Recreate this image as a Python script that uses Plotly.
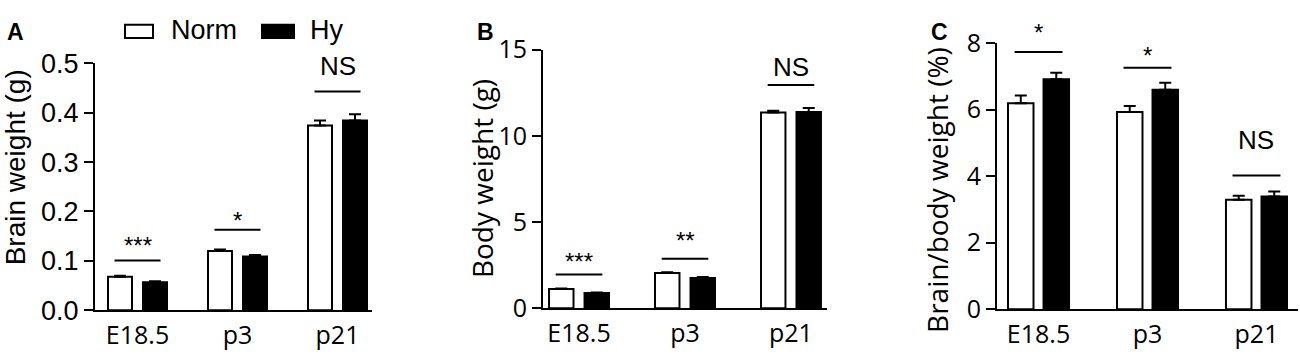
import plotly.graph_objects as go

W, H = 1300, 358

# ---------------- data ----------------
categories = ["E18.5", "p3", "p21"]

brain_norm = [0.068, 0.120, 0.374]
brain_norm_err = [0.002, 0.003, 0.010]
brain_hy = [0.057, 0.109, 0.384]
brain_hy_err = [0.002, 0.003, 0.013]

body_norm = [1.12, 2.05, 11.36]
body_norm_err = [0.03, 0.04, 0.10]
body_hy = [0.88, 1.75, 11.39]
body_hy_err = [0.03, 0.06, 0.22]

ratio_norm = [6.19, 5.93, 3.29]
ratio_norm_err = [0.23, 0.18, 0.12]
ratio_hy = [6.91, 6.60, 3.39]
ratio_hy_err = [0.20, 0.21, 0.15]

sig_a = ["***", "*", "NS"]
sig_a_y = [0.101, 0.163, 0.443]
sig_b = ["***", "**", "NS"]
sig_b_y = [1.96, 2.87, 12.95]
sig_c = ["*", "*", "NS"]
sig_c_y = [7.73, 7.26, 4.02]

ticks_a = [0, 0.1, 0.2, 0.3, 0.4, 0.5]
ticks_b = [0, 5, 10, 15]
ticks_c = [0, 2, 4, 6, 8]

series_names = ["Norm", "Hy"]
titles = ["Brain weight (g)", "Body weight (g)", "Brain/body weight (%)"]
panel_letters = ["A", "B", "C"]

# ---------------- layout helpers ----------------
def px2x(px):
    return px / W

def px2y(py):
    return 1 - py / H

OPEN = "Open Sans, Noto Sans, sans-serif"
ARIAL = "Liberation Sans, Arial, sans-serif"

# pixel offsets of significance labels above their lines (styling)
label_shift = [[15, 9.5, 25], [12.5, 18.5, 18], [19.5, 12, 35]]

panels = [
    dict(norm=brain_norm, ne=brain_norm_err, hy=brain_hy, he=brain_hy_err,
         sig=sig_a, sigy=sig_a_y, ticks=ticks_a, fmt=".1f", yr=[0, 0.5],
         xd=[px2x(95), px2x(372)], yd=[px2y(323), px2y(50)],
         xr=[-0.425, 2.345], bw=0.24, gw=0.59, hw=0.23, tickfont=ARIAL, tfs=27,
         title_x=15, title_y=165, title_font=ARIAL, letter_x=15),
    dict(norm=body_norm, ne=body_norm_err, hy=body_hy, he=body_hy_err,
         sig=sig_b, sigy=sig_b_y, ticks=ticks_b, fmt="d", yr=[0, 15],
         xd=[px2x(543), px2x(827)], yd=[px2y(320.7), px2y(35)],
         xr=[-0.34, 2.34], bw=0.231, gw=0.566, hw=0.22, tickfont=OPEN, tfs=25,
         title_x=482, title_y=178, title_font=OPEN, letter_x=485),
    dict(norm=ratio_norm, ne=ratio_norm_err, hy=ratio_hy, he=ratio_hy_err,
         sig=sig_c, sigy=sig_c_y, ticks=ticks_c, fmt="d", yr=[0, 8],
         xd=[px2x(997), px2x(1298)], yd=[px2y(321.7), px2y(27.7)],
         xr=[-0.381, 2.381], bw=0.234, gw=0.56, hw=0.22, tickfont=OPEN, tfs=25,
         title_x=937, title_y=190, title_font=OPEN, letter_x=939),
]

fig = go.Figure()
shapes = []
annotations = []

for i, p in enumerate(panels):
    sfx = "" if i == 0 else str(i + 1)
    xa, ya = "x" + sfx, "y" + sfx
    fig.add_trace(go.Bar(
        x=categories, y=p["norm"], name=series_names[0], xaxis=xa, yaxis=ya,
        marker=dict(color="white", line=dict(color="black", width=2)),
        width=p["bw"], offset=-p["gw"] / 2,
        error_y=dict(type="data", array=p["ne"], arrayminus=[0] * 3, symmetric=False,
                     color="black", thickness=2, width=6),
        showlegend=False))
    fig.add_trace(go.Bar(
        x=categories, y=p["hy"], name=series_names[1], xaxis=xa, yaxis=ya,
        marker=dict(color="black", line=dict(color="black", width=2)),
        width=p["bw"], offset=p["gw"] / 2 - p["bw"],
        error_y=dict(type="data", array=p["he"], arrayminus=[0] * 3, symmetric=False,
                     color="black", thickness=2, width=6),
        showlegend=False))

    xkey = "xaxis" + sfx
    ykey = "yaxis" + sfx
    fig.layout[xkey] = dict(
        domain=p["xd"], anchor=ya, type="category", range=p["xr"],
        showline=True, linecolor="black", linewidth=2, ticks="", showgrid=False,
        zeroline=False, tickfont=dict(family=OPEN, size=25, color="black"),
        ticklabelstandoff=2, fixedrange=True)
    fig.layout[ykey] = dict(
        domain=p["yd"], anchor=xa, range=p["yr"], tickvals=p["ticks"],
        tickformat=p["fmt"], showline=True, linecolor="black", linewidth=2,
        ticks="outside", ticklen=9, tickwidth=2, tickcolor="black",
        showgrid=False, zeroline=False,
        tickfont=dict(family=p["tickfont"], size=p["tfs"], color="black"),
        fixedrange=True)

    for j in range(3):
        shapes.append(dict(type="line", xref=xa, yref=ya,
                           x0=j - p["hw"], x1=j + p["hw"], y0=p["sigy"][j], y1=p["sigy"][j],
                           line=dict(color="black", width=2)))
        is_ns = p["sig"][j] == "NS"
        annotations.append(dict(
            xref=xa, yref=ya, x=j, y=p["sigy"][j], text=p["sig"][j],
            showarrow=False, xanchor="center", yanchor="middle",
            yshift=label_shift[i][j],
            font=dict(family=ARIAL, size=26 if is_ns else 24, color="black")))

    annotations.append(dict(
        xref="paper", yref="paper", x=px2x(p["title_x"]), y=px2y(p["title_y"]),
        text=titles[i], textangle=-90, showarrow=False, xanchor="center", yanchor="middle",
        font=dict(family=p["title_font"], size=28, color="black")))
    annotations.append(dict(
        xref="paper", yref="paper", x=px2x(p["letter_x"]), y=px2y(15),
        text="<b>" + panel_letters[i] + "</b>", showarrow=False,
        xanchor="center", yanchor="middle",
        font=dict(family=ARIAL, size=23, color="black")))

# manual legend
shapes.append(dict(type="rect", xref="paper", yref="paper",
                   x0=px2x(125), x1=px2x(153), y0=px2y(22), y1=px2y(7.5),
                   fillcolor="white", line=dict(color="black", width=2)))
shapes.append(dict(type="rect", xref="paper", yref="paper",
                   x0=px2x(262), x1=px2x(294), y0=px2y(22), y1=px2y(7.5),
                   fillcolor="black", line=dict(color="black", width=2)))
annotations.append(dict(xref="paper", yref="paper", x=px2x(169), y=px2y(13),
                        text=series_names[0], showarrow=False, xanchor="left", yanchor="middle",
                        font=dict(family=ARIAL, size=27, color="black")))
annotations.append(dict(xref="paper", yref="paper", x=px2x(308), y=px2y(13),
                        text=series_names[1], showarrow=False, xanchor="left", yanchor="middle",
                        font=dict(family=ARIAL, size=27, color="black")))

fig.update_layout(
    width=W, height=H, margin=dict(l=0, r=0, t=0, b=0),
    paper_bgcolor="white", plot_bgcolor="white",
    barmode="overlay", showlegend=False,
    shapes=shapes, annotations=annotations)

fig.write_html("out.html", config={"displayModeBar": False},
               post_script="document.body.style.margin='0';document.body.style.overflow='hidden';")
